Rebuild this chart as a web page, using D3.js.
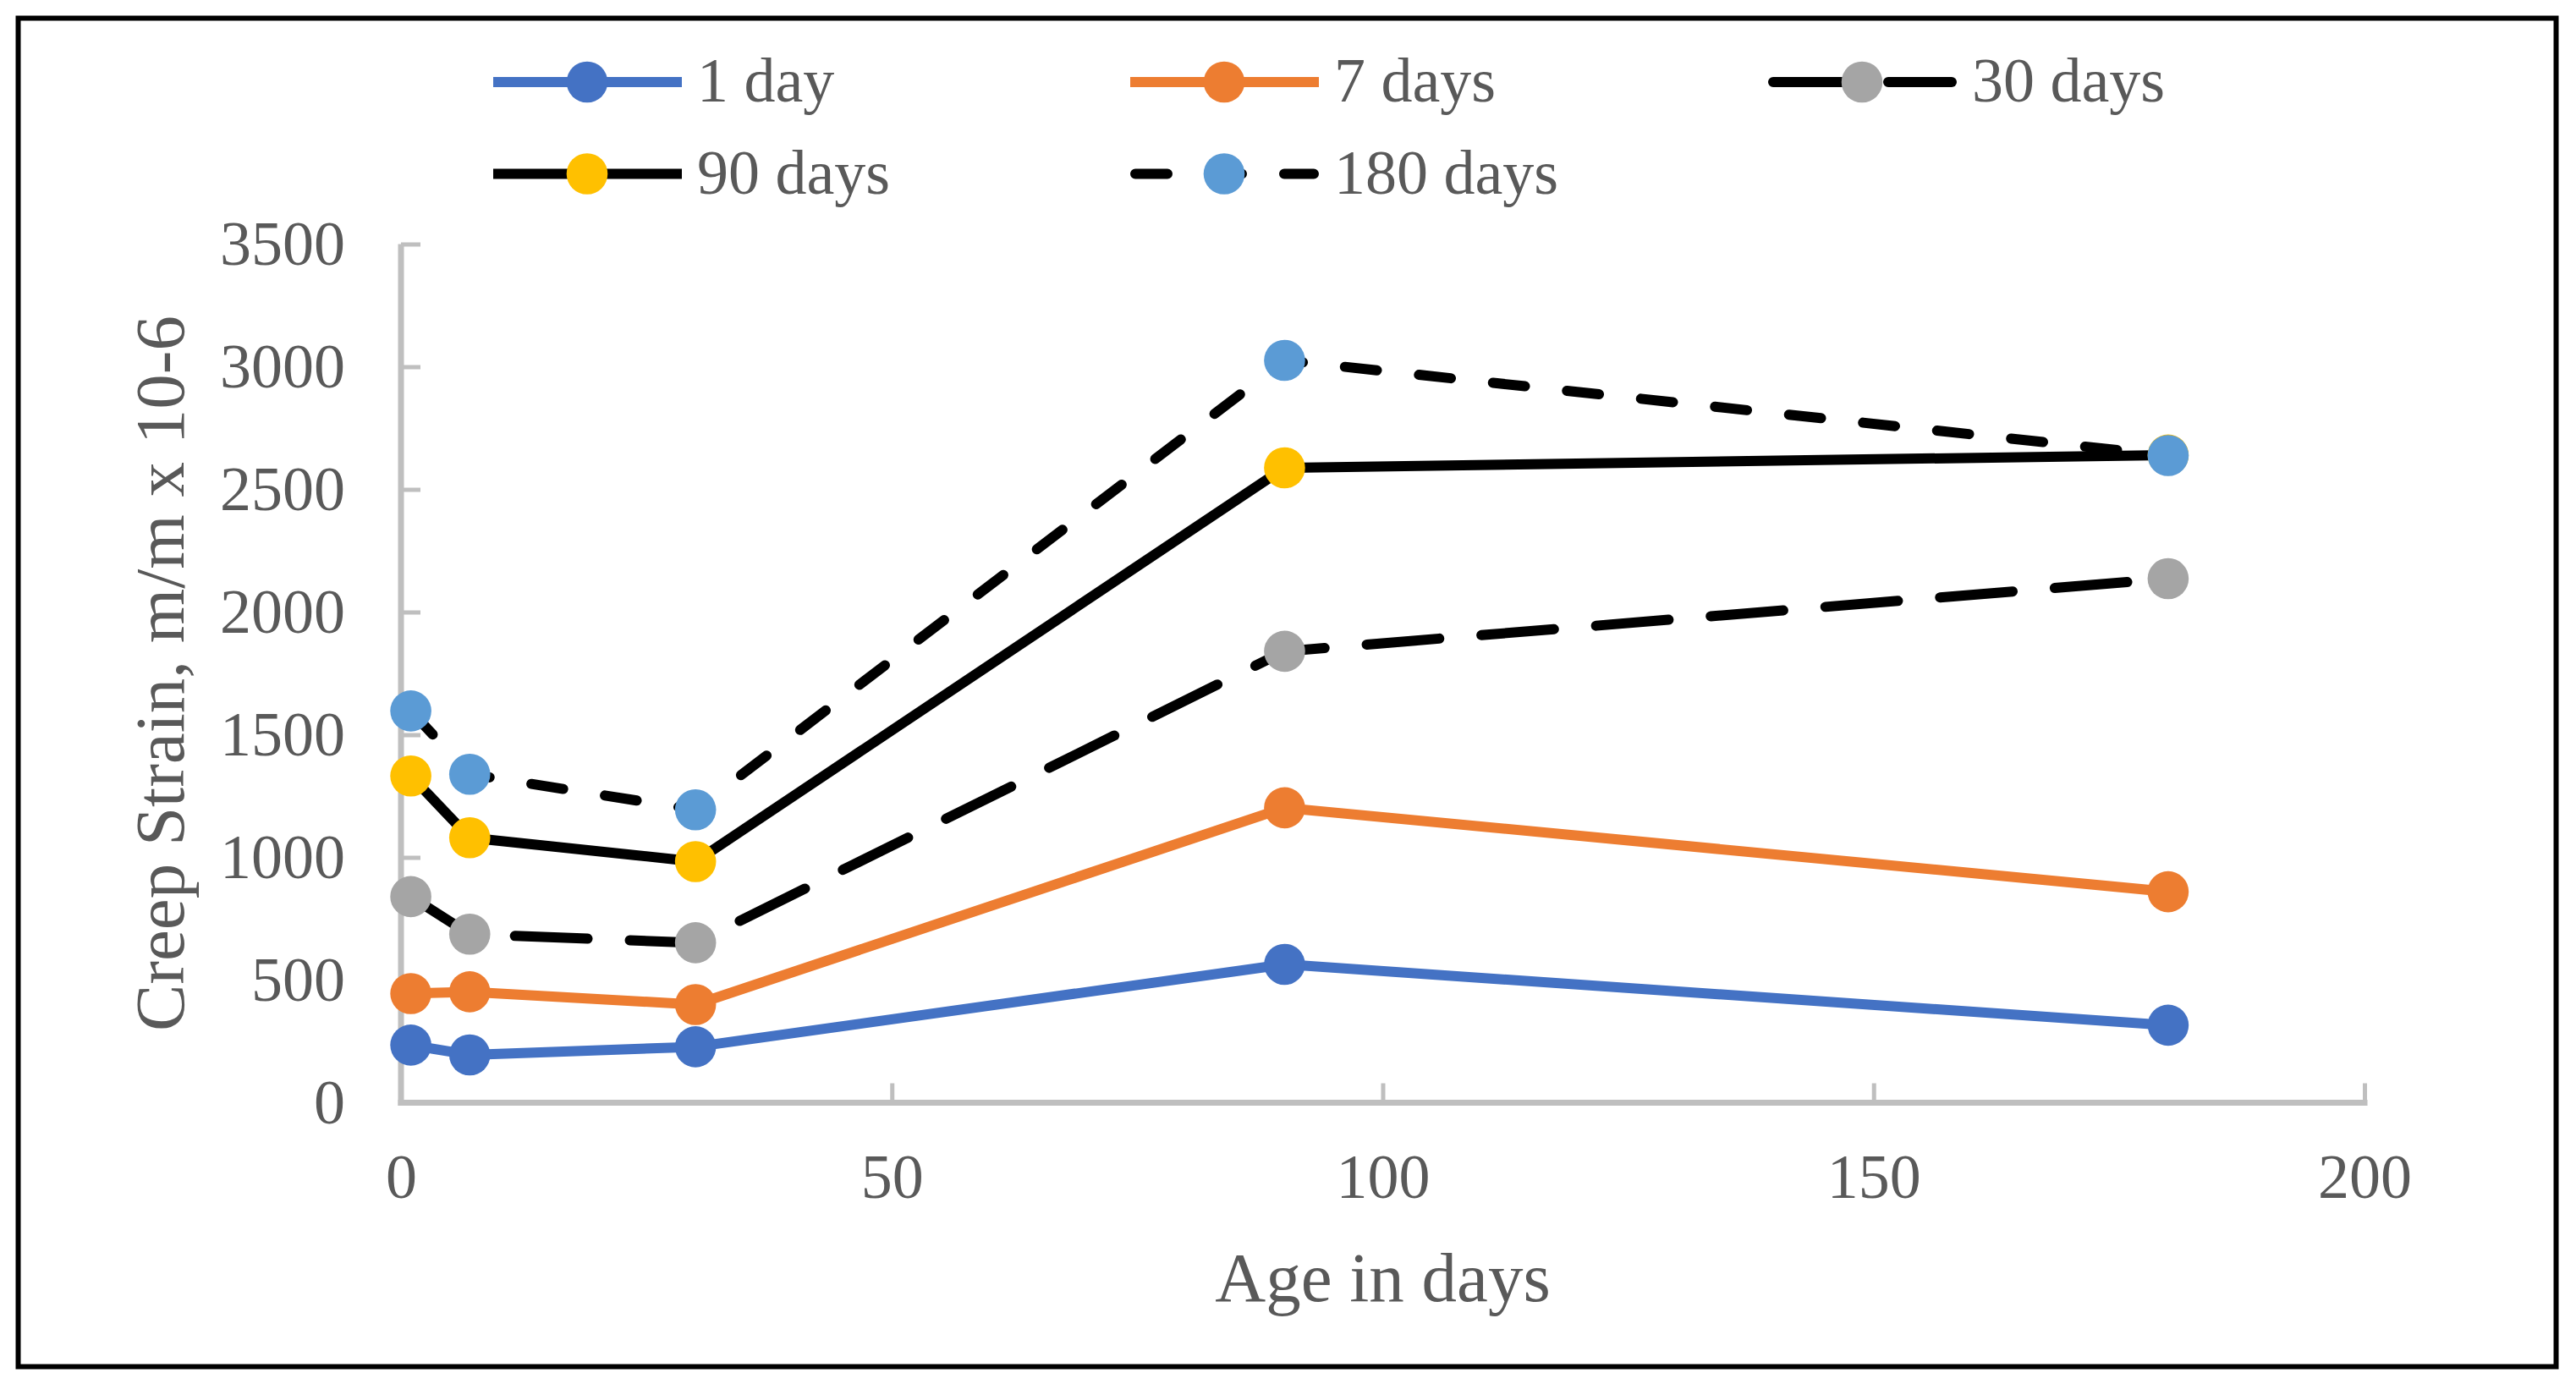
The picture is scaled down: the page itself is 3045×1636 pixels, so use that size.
<!DOCTYPE html>
<html><head><meta charset="utf-8">
<script src="https://cdn.jsdelivr.net/npm/d3@7"></script>
<style>html,body{margin:0;padding:0;background:#fff;} svg{display:block;}</style>
</head><body>
<svg id="chart" width="3045" height="1636"></svg>
<script>
// ---- data ----
const ages = [1, 7, 30, 90, 180];
const seriesNames = ["1 day", "7 days", "30 days", "90 days", "180 days"];
const strain1day = [235, 195, 228, 564, 316];
const strain7days = [445, 452, 400, 1202, 860];
const strain30days = [840, 687, 652, 1840, 2136];
const strain90days = [1332, 1080, 983, 2588, 2640];
const strain180days = [1597, 1339, 1194, 3026, 2638];
const xTickValues = [0, 50, 100, 150, 200];
const yTickValues = [0, 500, 1000, 1500, 2000, 2500, 3000, 3500];
const xTitle = "Age in days";
const yTitle = "Creep Strain, m/m x 10-6";

// ---- styles ----
const lineColors = ["#4472C4", "#ED7D31", "#000000", "#000000", "#000000"];
const markerColors = ["#4472C4", "#ED7D31", "#A5A5A5", "#FFC000", "#5B9BD5"];
const dashes = [null, null, "86,50", null, "38,50"];
const allValues = [strain1day, strain7days, strain30days, strain90days, strain180days];

const FONT = "'Liberation Serif','Times New Roman',serif";
const TXT = "#595959";
const LW = 12, R = 24.3;

const svg = d3.select("#chart");
svg.append("rect").attr("width", 3045).attr("height", 1636).attr("fill", "#fff");
svg.append("rect").attr("x", 21.5).attr("y", 21.5).attr("width", 3000).attr("height", 1594)
  .attr("fill", "none").attr("stroke", "#000").attr("stroke-width", 6);

const x = d3.scaleLinear().domain([0, 200]).range([474, 2795]);
const y = d3.scaleLinear().domain([0, 3500]).range([1303.5, 288.5]);

// x axis
const gx = svg.append("g").attr("transform", `translate(0,${y(0)})`)
  .call(d3.axisBottom(x).tickValues(xTickValues).tickFormat(d3.format("d")).tickSize(-23).tickSizeOuter(0));
gx.select(".domain").remove();
gx.selectAll(".tick line").attr("stroke", "#BFBFBF").attr("stroke-width", 5);
gx.selectAll(".tick text").attr("y", 112).attr("dy", 0)
  .attr("font-family", FONT).attr("font-size", 74).attr("fill", TXT);
gx.append("line").attr("x1", x(0) - 3.5).attr("x2", x(200) + 3.5).attr("y1", 0).attr("y2", 0)
  .attr("stroke", "#BFBFBF").attr("stroke-width", 7);

// y axis
const gy = svg.append("g").attr("transform", `translate(${x(0)},0)`)
  .call(d3.axisLeft(y).tickValues(yTickValues).tickFormat(d3.format("d")).tickSize(-23).tickSizeOuter(0));
gy.select(".domain").remove();
gy.selectAll(".tick line").attr("stroke", "#BFBFBF").attr("stroke-width", 5);
gy.selectAll(".tick text").attr("x", -66).attr("dy", "0.33em")
  .attr("font-family", FONT).attr("font-size", 74).attr("fill", TXT);
gy.append("line").attr("x1", 0).attr("x2", 0).attr("y1", y(3500)).attr("y2", y(0) + 3.5)
  .attr("stroke", "#BFBFBF").attr("stroke-width", 7);

// titles
svg.append("text").attr("x", (x(0) + x(200)) / 2).attr("y", 1538).attr("text-anchor", "middle")
  .attr("font-family", FONT).attr("font-size", 83).attr("fill", TXT).text(xTitle);
svg.append("text").attr("transform", `translate(217,${(y(0) + y(3500)) / 2}) rotate(-90)`)
  .attr("text-anchor", "middle")
  .attr("font-family", FONT).attr("font-size", 83).attr("fill", TXT).text(yTitle);

// series
const line = d3.line().x(d => x(d[0])).y(d => y(d[1]));
seriesNames.forEach((name, i) => {
  const pts = ages.map((a, j) => [a, allValues[i][j]]);
  const g = svg.append("g");
  const p = g.append("path").attr("d", line(pts)).attr("fill", "none")
    .attr("stroke", lineColors[i]).attr("stroke-width", LW)
    .attr("stroke-linejoin", "round").attr("stroke-linecap", "round");
  if (dashes[i]) p.attr("stroke-dasharray", dashes[i]);
  g.selectAll("circle").data(pts).join("circle")
    .attr("cx", d => x(d[0])).attr("cy", d => y(d[1])).attr("r", R)
    .attr("fill", markerColors[i]);
});

// legend
const colX = [583, 1336, 2090];
const rowY = [97, 205.5];
seriesNames.forEach((name, i) => {
  const cx = colX[i % 3], cy = rowY[Math.floor(i / 3)];
  const g = svg.append("g");
  const l = g.append("line").attr("x1", cx).attr("x2", cx + 223).attr("y1", cy).attr("y2", cy)
    .attr("stroke", lineColors[i]).attr("stroke-width", LW)
    .attr("stroke-linecap", dashes[i] ? "round" : "butt");
  if (dashes[i]) l.attr("x1", cx + 6).attr("x2", cx + 217).attr("stroke-dasharray", dashes[i]);
  g.append("circle").attr("cx", cx + 111).attr("cy", cy).attr("r", R).attr("fill", markerColors[i]);
  g.append("text").attr("x", cx + 241).attr("y", cy + 23)
    .attr("font-family", FONT).attr("font-size", 74).attr("fill", TXT).text(name);
});
</script>
</body></html>
